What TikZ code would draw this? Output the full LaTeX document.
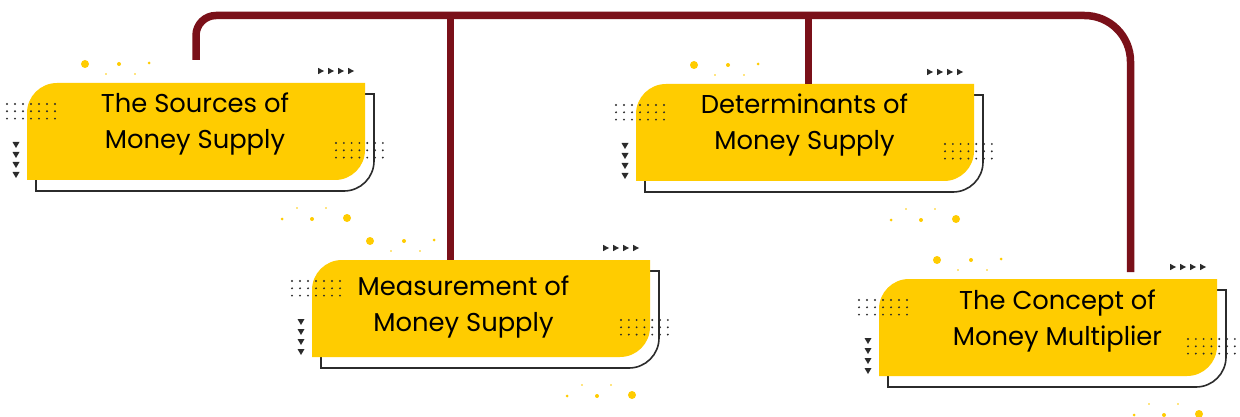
\documentclass[tikz,border=0pt]{standalone}
\usepackage{fontspec}
\setmainfont{Poppins}
\definecolor{connred}{HTML}{7A1019}
\definecolor{cardyellow}{HTML}{FFCC00}
\definecolor{darkgrey}{HTML}{2B2B2B}
\tikzset{
  conn/.style={draw=connred, line width=7.5pt},
  cardfill/.style={fill=cardyellow},
  cardline/.style={draw=darkgrey, line width=1.6pt},
  griddot/.style={fill=darkgrey},
  ydot/.style={fill=cardyellow},
  tri/.style={fill=darkgrey},
  cardbox/.style={inner sep=0pt, minimum width=338pt, minimum height=97pt},
  linetext/.style={inner sep=0pt, anchor=base, font=\fontsize{25.8}{36}\selectfont, text=black}
}
% #1 name, #2 x, #3 y, #4 line 1, #5 line 2, #6 text dx, #7 text dy
\newcommand\drawcard[7]{%
  \begin{scope}[shift={(#2,-#3)}]
    % outline
    \draw[cardline] (9,-11) -- (347,-11) -- (347,-78) arc (0:-90:30) -- (9,-108) -- cycle;
    % yellow
    \fill[cardfill] (0,-97) -- (0,-30) arc (180:90:30) -- (338,0) -- (338,-67) arc (0:-90:30) -- cycle;
    % dot grids
    \foreach \i in {0,...,6} \foreach \j in {0,1,2} {
      \fill[griddot] (-20+8*\i,-21-7.3*\j) circle (1.05);
      \fill[griddot] (309+7.8*\i,-60-7.3*\j) circle (1.05);
    }
    % down triangles
    \foreach \k in {0,...,3}
      \fill[tri] (-14.5,-59-10*\k) -- (-7.5,-59-10*\k) -- (-11,-65-10*\k) -- cycle;
    % right triangles
    \foreach \k in {0,...,3}
      \fill[tri] (291+10*\k,8.8) -- (291+10*\k,15.2) -- (297+10*\k,12) -- cycle;
    % yellow dots
    \fill[ydot] (58,19) circle (4);
    \fill[ydot] (92,19) circle (2);
    \fill[ydot] (122,20) circle (1.5);
    \fill[ydot] (79,9) circle (0.8);
    \fill[ydot] (108,9) circle (0.8);
    \fill[ydot] (255,-136) circle (1.5);
    \fill[ydot] (270,-125) circle (0.8);
    \fill[ydot] (285,-136) circle (2);
    \fill[ydot] (299,-125) circle (0.8);
    \fill[ydot] (320,-135) circle (4);
    \node[cardbox] (#1) at (169,-48.5) {};
    \node[linetext] (#1-a) at (169+#6,-30-#7) {#4};
    \node[linetext] (#1-b) at (169+#6,-66-#7) {#5};
  \end{scope}
}
\begin{document}
\begin{tikzpicture}[x=1pt,y=1pt]
\useasboundingbox (0,0) rectangle (1240,-417);
\fill[white] (0,0) rectangle (1240,-417);
\drawcard{sources}{27}{83}{The Sources of}{Money Supply}{-1}{0}
\drawcard{measure}{312}{260}{Measurement of}{Money Supply}{-17.5}{5}
\drawcard{determ}{636}{84}{Determinants of}{Money Supply}{-0.5}{-0.5}
\drawcard{concept}{879}{279}{The Concept of}{Money Multiplier}{9.5}{0}
\coordinate (e1) at (196,-60);
\coordinate (e4) at (1130.5,-272);
\coordinate (j2) at (450.5,-15.5);
\coordinate (j3) at (808.5,-15.5);
\draw[conn] (e1) -- ++(0,24.5) arc (180:90:20) -- (1084.5,-15.5) arc (90:0:46) -- (e4);
\draw[conn] (j2) -- (j2 |- measure.north);
\draw[conn] (j3) -- (j3 |- determ.north);
\end{tikzpicture}
\end{document}
